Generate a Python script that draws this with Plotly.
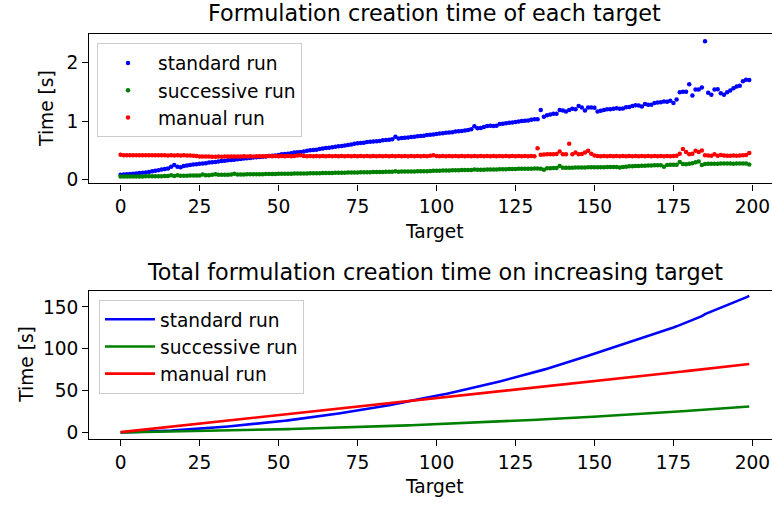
import plotly.graph_objects as go
import numpy as np

# ---------------- data ----------------
targets = list(range(200))

standard_run = [
    0.080, 0.085, 0.090, 0.095, 0.100, 0.105, 0.110, 0.115, 0.120, 0.130,
    0.140, 0.150, 0.160, 0.170, 0.180, 0.190, 0.220, 0.250, 0.220, 0.210,
    0.230, 0.240, 0.250, 0.255, 0.260, 0.270, 0.275, 0.280, 0.290, 0.295,
    0.300, 0.310, 0.315, 0.320, 0.330, 0.335, 0.340, 0.345, 0.350, 0.360,
    0.365, 0.370, 0.375, 0.380, 0.385, 0.390, 0.395, 0.400, 0.405, 0.410,
    0.420, 0.430, 0.435, 0.440, 0.450, 0.460, 0.465, 0.470, 0.480, 0.490,
    0.500, 0.505, 0.510, 0.520, 0.530, 0.540, 0.545, 0.550, 0.560, 0.570,
    0.575, 0.580, 0.590, 0.600, 0.610, 0.620, 0.625, 0.630, 0.640, 0.645,
    0.650, 0.655, 0.660, 0.670, 0.675, 0.680, 0.690, 0.730, 0.700, 0.710,
    0.715, 0.720, 0.725, 0.730, 0.740, 0.745, 0.750, 0.760, 0.765, 0.770,
    0.780, 0.785, 0.790, 0.800, 0.805, 0.810, 0.820, 0.825, 0.830, 0.840,
    0.845, 0.860, 0.910, 0.875, 0.880, 0.900, 0.915, 0.920, 0.915, 0.920,
    0.950, 0.955, 0.960, 0.970, 0.975, 0.985, 0.990, 1.000, 1.005, 1.010,
    1.020, 1.030, 1.030, 1.190, 1.075, 1.100, 1.110, 1.125, 1.125, 1.190,
    1.180, 1.165, 1.190, 1.210, 1.200, 1.255, 1.230, 1.180, 1.230, 1.230,
    1.225, 1.165, 1.175, 1.190, 1.200, 1.200, 1.210, 1.220, 1.210, 1.215,
    1.235, 1.240, 1.255, 1.270, 1.265, 1.250, 1.290, 1.280, 1.280, 1.310,
    1.315, 1.320, 1.335, 1.330, 1.345, 1.310, 1.370, 1.490, 1.500, 1.500,
    1.630, 1.435, 1.540, 1.540, 1.575, 2.365, 1.485, 1.450, 1.540, 1.545,
    1.475, 1.450, 1.490, 1.520, 1.560, 1.590, 1.605, 1.680, 1.705, 1.700,
]

successive_run = [
    0.050, 0.050, 0.050, 0.050, 0.052, 0.052, 0.053, 0.053, 0.054, 0.055,
    0.055, 0.056, 0.057, 0.058, 0.060, 0.062, 0.075, 0.062, 0.075, 0.065,
    0.065, 0.066, 0.067, 0.068, 0.068, 0.070, 0.085, 0.072, 0.075, 0.080,
    0.090, 0.080, 0.080, 0.081, 0.082, 0.085, 0.100, 0.085, 0.086, 0.087,
    0.088, 0.089, 0.090, 0.090, 0.091, 0.092, 0.093, 0.094, 0.095, 0.096,
    0.097, 0.098, 0.099, 0.100, 0.100, 0.101, 0.102, 0.103, 0.104, 0.105,
    0.106, 0.107, 0.108, 0.109, 0.110, 0.111, 0.112, 0.113, 0.114, 0.115,
    0.116, 0.117, 0.118, 0.120, 0.121, 0.122, 0.123, 0.124, 0.125, 0.126,
    0.127, 0.128, 0.129, 0.130, 0.131, 0.132, 0.133, 0.140, 0.134, 0.135,
    0.136, 0.137, 0.138, 0.139, 0.140, 0.141, 0.142, 0.143, 0.145, 0.150,
    0.150, 0.152, 0.153, 0.155, 0.156, 0.157, 0.158, 0.160, 0.161, 0.162,
    0.163, 0.164, 0.170, 0.165, 0.166, 0.168, 0.170, 0.171, 0.172, 0.173,
    0.175, 0.176, 0.177, 0.178, 0.180, 0.181, 0.182, 0.183, 0.184, 0.185,
    0.186, 0.187, 0.187, 0.185, 0.165, 0.192, 0.194, 0.195, 0.196, 0.230,
    0.200, 0.201, 0.202, 0.203, 0.204, 0.205, 0.206, 0.207, 0.208, 0.209,
    0.210, 0.210, 0.211, 0.211, 0.212, 0.212, 0.213, 0.213, 0.205, 0.215,
    0.220, 0.225, 0.228, 0.230, 0.232, 0.234, 0.236, 0.238, 0.240, 0.242,
    0.242, 0.243, 0.220, 0.250, 0.252, 0.253, 0.254, 0.300, 0.265, 0.260,
    0.270, 0.280, 0.295, 0.310, 0.250, 0.265, 0.270, 0.270, 0.271, 0.271,
    0.272, 0.272, 0.273, 0.273, 0.270, 0.274, 0.272, 0.275, 0.274, 0.255,
]

manual_run = [
    0.425, 0.415, 0.415, 0.413, 0.415, 0.415, 0.413, 0.415, 0.413, 0.415,
    0.413, 0.415, 0.413, 0.415, 0.413, 0.412, 0.413, 0.412, 0.413, 0.412,
    0.413, 0.412, 0.410, 0.405, 0.400, 0.395, 0.393, 0.392, 0.392, 0.391,
    0.391, 0.392, 0.391, 0.392, 0.393, 0.395, 0.393, 0.395, 0.395, 0.397,
    0.395, 0.397, 0.395, 0.397, 0.398, 0.397, 0.398, 0.400, 0.398, 0.400,
    0.398, 0.400, 0.398, 0.400, 0.398, 0.400, 0.410, 0.415, 0.400, 0.398,
    0.400, 0.398, 0.400, 0.398, 0.400, 0.398, 0.400, 0.398, 0.400, 0.398,
    0.400, 0.398, 0.400, 0.398, 0.400, 0.398, 0.400, 0.398, 0.400, 0.398,
    0.400, 0.398, 0.400, 0.398, 0.400, 0.398, 0.400, 0.398, 0.400, 0.398,
    0.400, 0.398, 0.400, 0.398, 0.400, 0.398, 0.400, 0.398, 0.405, 0.415,
    0.400, 0.398, 0.400, 0.398, 0.400, 0.398, 0.400, 0.398, 0.400, 0.398,
    0.400, 0.398, 0.400, 0.398, 0.400, 0.398, 0.400, 0.398, 0.400, 0.398,
    0.400, 0.398, 0.400, 0.398, 0.400, 0.398, 0.400, 0.398, 0.400, 0.398,
    0.400, 0.398, 0.535, 0.425, 0.428, 0.430, 0.430, 0.432, 0.435, 0.480,
    0.430, 0.432, 0.610, 0.430, 0.460, 0.432, 0.435, 0.460, 0.490, 0.440,
    0.410, 0.400, 0.398, 0.400, 0.398, 0.400, 0.398, 0.400, 0.398, 0.400,
    0.398, 0.400, 0.398, 0.400, 0.398, 0.400, 0.398, 0.400, 0.398, 0.400,
    0.398, 0.400, 0.398, 0.400, 0.398, 0.400, 0.405, 0.440, 0.520, 0.470,
    0.430, 0.440, 0.490, 0.470, 0.495, 0.415, 0.410, 0.405, 0.430, 0.405,
    0.420, 0.410, 0.408, 0.408, 0.410, 0.408, 0.412, 0.415, 0.420, 0.455,
]

series_names = ["standard run", "successive run", "manual run"]
series_colors = ["#0000ff", "#008000", "#ff0000"]
x_ticks = [0, 25, 50, 75, 100, 125, 150, 175, 200]
y_ticks_top = [0, 1, 2]
y_ticks_bottom = [0, 50, 100, 150]

title_top = "Formulation creation time of each target"
title_bottom = "Total formulation creation time on increasing target"
x_label = "Target"
y_label = "Time [s]"

# ---------------- figure ----------------
W, H = 772, 505
FONT = "DejaVu Sans"
TICK_SIZE = 18.6
TITLE_SIZE = 22.3

fig = go.Figure()

all_series = [standard_run, successive_run, manual_run]
for name, color, vals in zip(series_names, series_colors, all_series):
    fig.add_trace(go.Scatter(
        x=targets, y=vals, mode="markers", name=name,
        marker=dict(color=color, size=4.5, line=dict(width=0)),
        xaxis="x", yaxis="y", legend="legend", legendgroup=name + "1",
    ))

for name, color, vals in zip(series_names, series_colors, all_series):
    fig.add_trace(go.Scatter(
        x=targets, y=np.cumsum(vals), mode="lines", name=name,
        line=dict(color=color, width=2.6),
        xaxis="x2", yaxis="y2", legend="legend2", legendgroup=name + "2",
    ))

def px_x(p):
    return p / W

def px_y(p):
    return 1 - p / H

left, right = 89.3, 772
top1, bot1 = 34.7, 185.7
top2, bot2 = 294.0, 444.3

axis_common = dict(
    showline=True, linecolor="black", linewidth=1.4,
    ticks="outside", ticklen=6, tickwidth=1.4, tickcolor="black",
    showgrid=False, zeroline=False,
    tickfont=dict(family=FONT, size=TICK_SIZE, color="black"),
)

legend_common = dict(
    xanchor="left", yanchor="top",
    bgcolor="rgba(255,255,255,0.8)", bordercolor="#cccccc", borderwidth=1,
    font=dict(family=FONT, size=TICK_SIZE, color="black"),
    tracegroupgap=0, itemwidth=50,
)

fig.update_layout(
    width=W, height=H,
    margin=dict(l=0, r=0, t=0, b=0),
    paper_bgcolor="white", plot_bgcolor="white",
    font=dict(family=FONT, size=TICK_SIZE, color="black"),
    xaxis=dict(domain=[px_x(left), 1], range=[-9.9, 206.2], anchor="y",
               tickvals=x_ticks, mirror=True, **axis_common),
    yaxis=dict(domain=[px_y(bot1), px_y(top1)], range=[-0.068, 2.483], anchor="x",
               tickvals=y_ticks_top, **axis_common),
    xaxis2=dict(domain=[px_x(left), 1], range=[-9.9, 206.2], anchor="y2",
                tickvals=x_ticks, mirror=True, **axis_common),
    yaxis2=dict(domain=[px_y(bot2), px_y(top2)], range=[-7.8, 169.7], anchor="x2",
                tickvals=y_ticks_bottom, **axis_common),
    legend=dict(x=px_x(97), y=px_y(44), **legend_common),
    legend2=dict(x=px_x(99), y=px_y(303.3), **legend_common),
    showlegend=True,
)

cx = (left + 780) / 2
annotations = [
    dict(text=title_top, x=px_x(cx), y=px_y(13.5), font_size=TITLE_SIZE),
    dict(text=title_bottom, x=px_x(cx), y=px_y(275), font_size=TITLE_SIZE),
    dict(text=x_label, x=px_x(cx), y=px_y(234), font_size=TICK_SIZE),
    dict(text=x_label, x=px_x(cx), y=px_y(492), font_size=TICK_SIZE),
    dict(text=y_label, x=px_x(47), y=px_y((top1 + bot1) / 2), font_size=TICK_SIZE, textangle=-90),
    dict(text=y_label, x=px_x(27), y=px_y((top2 + bot2) / 2), font_size=TICK_SIZE, textangle=-90),
]
for a in annotations:
    fig.add_annotation(xref="paper", yref="paper", showarrow=False,
                       xanchor="center", yanchor="middle",
                       font=dict(family=FONT, size=a.pop("font_size"), color="black"), **a)

fig.write_html("out.html")
